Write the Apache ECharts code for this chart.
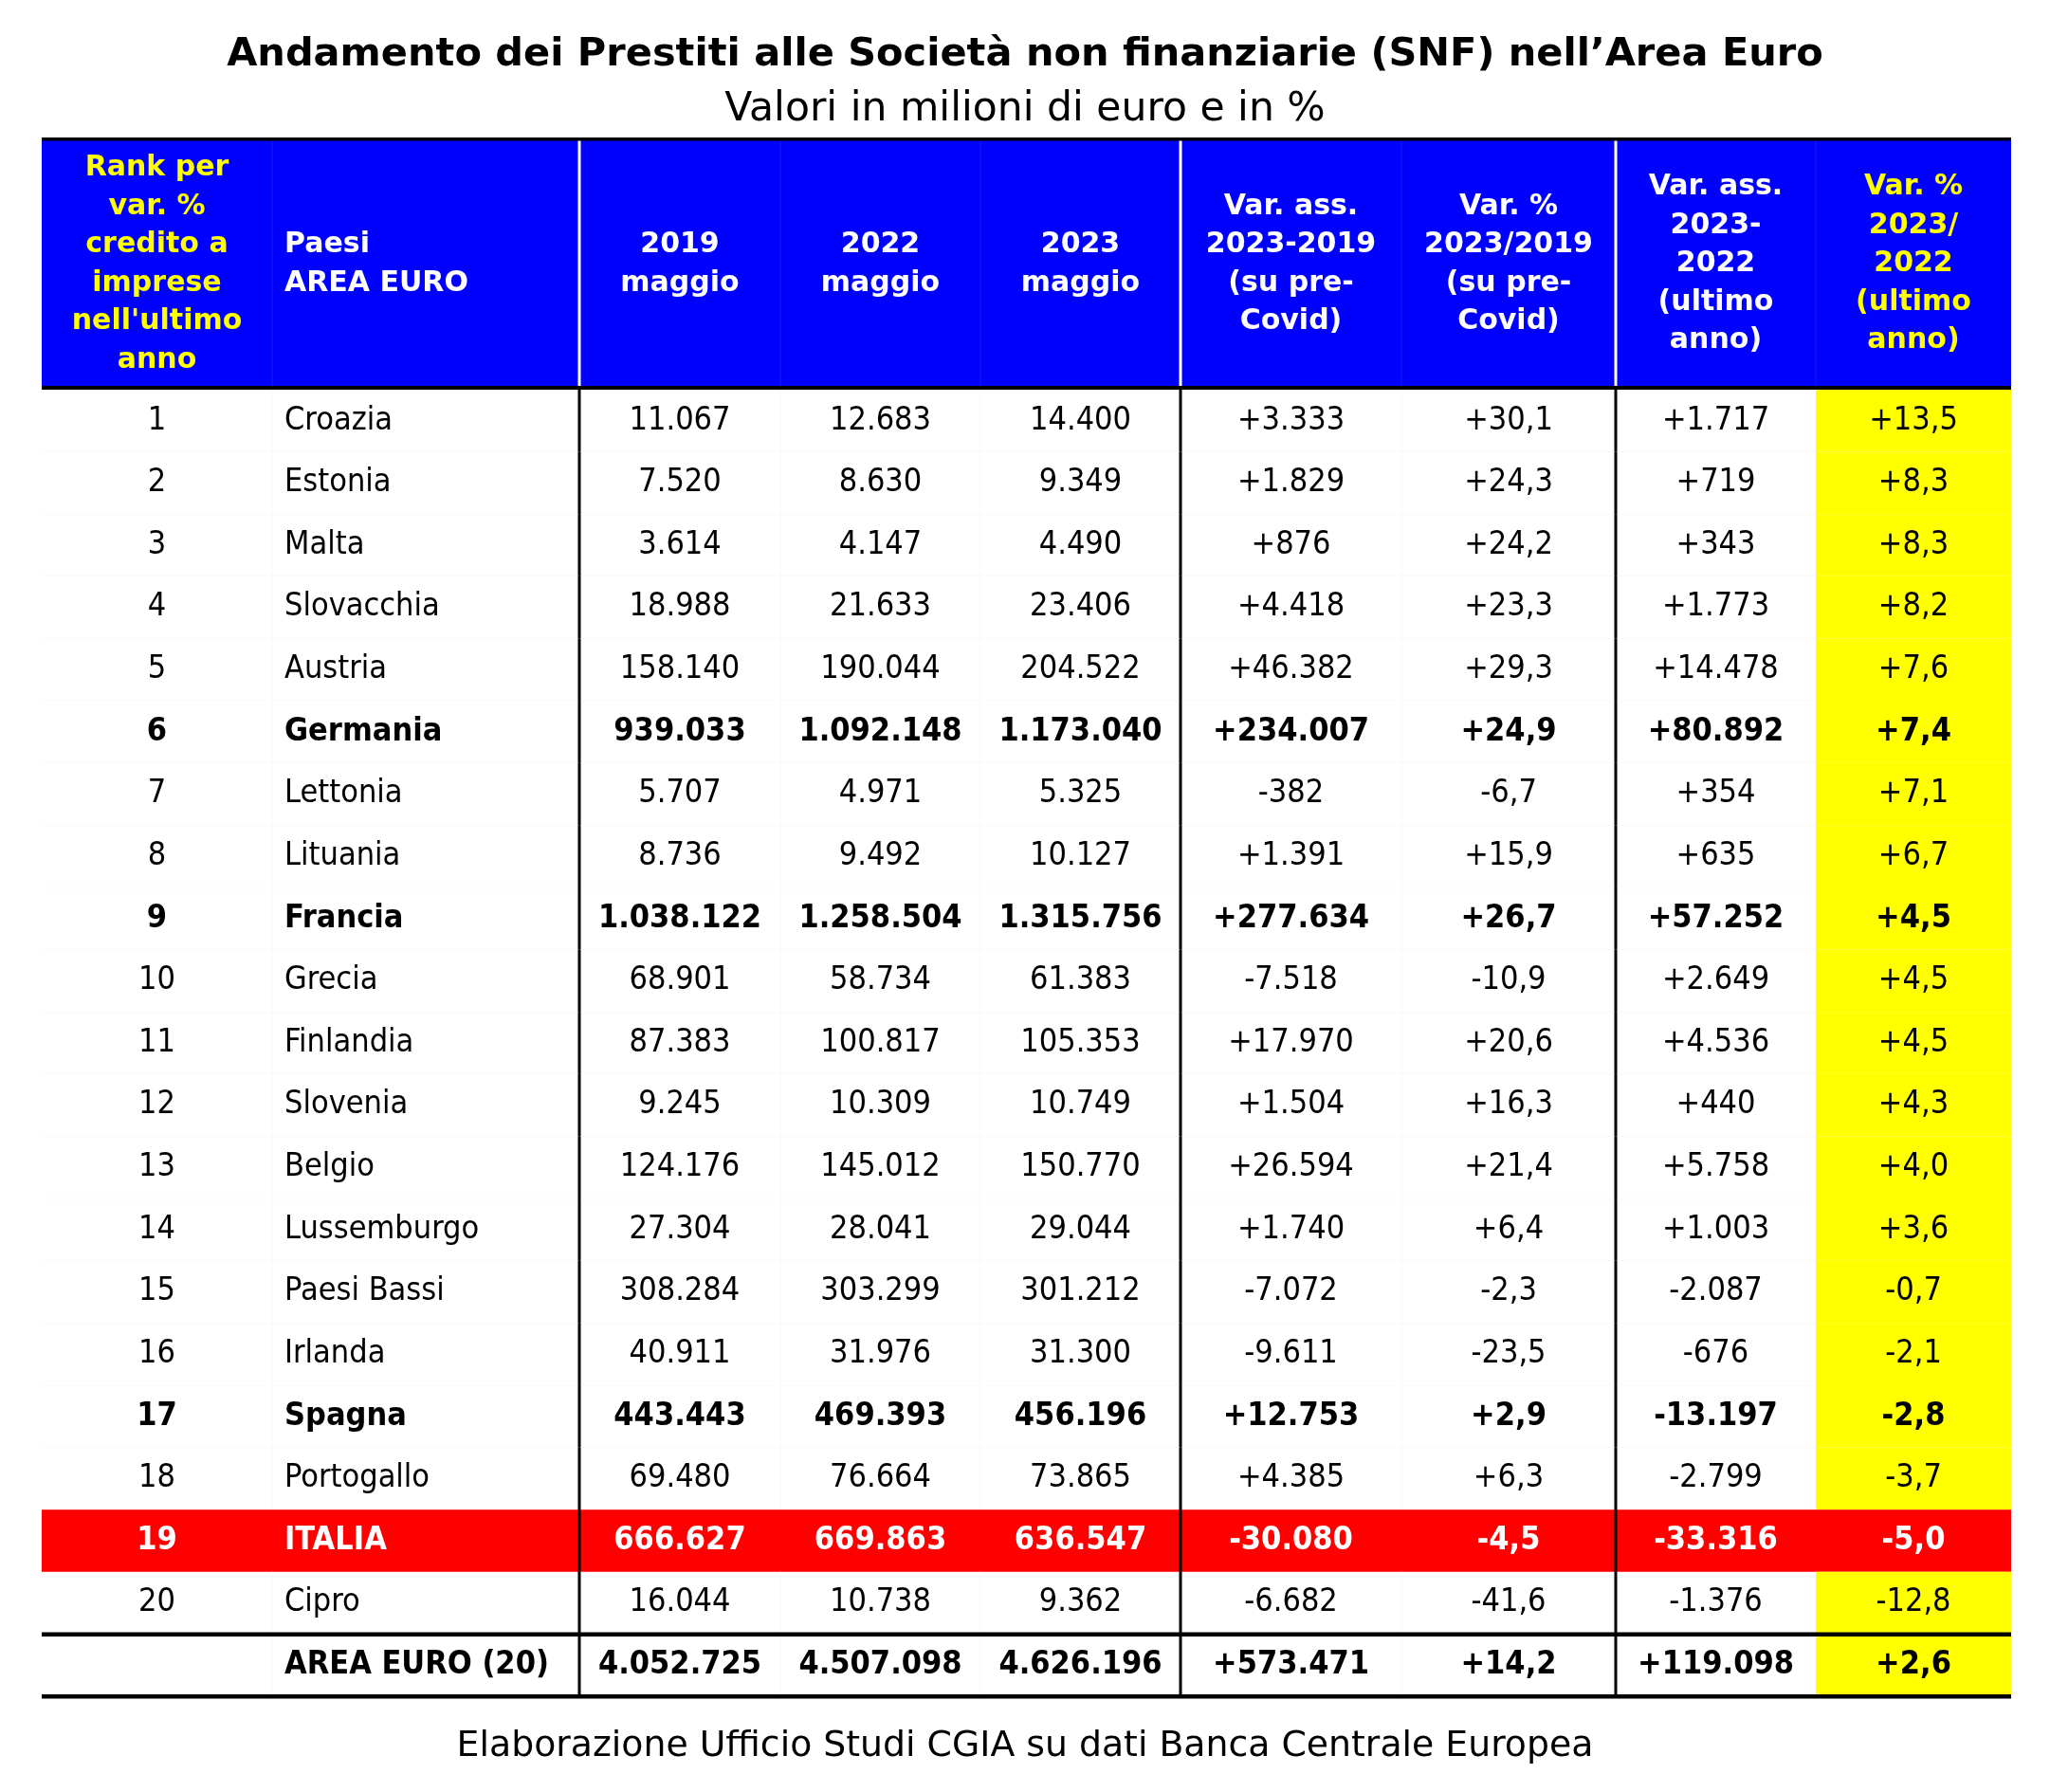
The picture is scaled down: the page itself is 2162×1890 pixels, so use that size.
<!DOCTYPE html>
<html><head><meta charset="utf-8">
<script src="https://cdn.jsdelivr.net/npm/echarts@6/dist/echarts.min.js"></script>
<style>html,body{margin:0;padding:0;background:#fff}#c{width:2162px;height:1890px}</style>
</head><body><div id="c"></div>
<script>
// ---------- DATA ----------
const titleText = 'Andamento dei Prestiti alle Società non finanziarie (SNF) nell’Area Euro';
const subtitleText = 'Valori in milioni di euro e in %';
const footerText = 'Elaborazione Ufficio Studi CGIA su dati Banca Centrale Europea';
const headerLabels = [
  'Rank per\nvar. %\ncredito a\nimprese\nnell\'ultimo\nanno',
  'Paesi\nAREA EURO',
  '2019\nmaggio',
  '2022\nmaggio',
  '2023\nmaggio',
  'Var. ass.\n2023-2019\n(su pre-\nCovid)',
  'Var. %\n2023/2019\n(su pre-\nCovid)',
  'Var. ass.\n2023-\n2022\n(ultimo\nanno)',
  'Var. %\n2023/\n2022\n(ultimo\nanno)'
];
const ranks = ['1','2','3','4','5','6','7','8','9','10','11','12','13','14','15','16','17','18','19','20',''];
const countries = ['Croazia','Estonia','Malta','Slovacchia','Austria','Germania','Lettonia','Lituania','Francia','Grecia','Finlandia','Slovenia','Belgio','Lussemburgo','Paesi Bassi','Irlanda','Spagna','Portogallo','ITALIA','Cipro','AREA EURO (20)'];
const may2019 = [11067,7520,3614,18988,158140,939033,5707,8736,1038122,68901,87383,9245,124176,27304,308284,40911,443443,69480,666627,16044,4052725];
const may2022 = [12683,8630,4147,21633,190044,1092148,4971,9492,1258504,58734,100817,10309,145012,28041,303299,31976,469393,76664,669863,10738,4507098];
const may2023 = [14400,9349,4490,23406,204522,1173040,5325,10127,1315756,61383,105353,10749,150770,29044,301212,31300,456196,73865,636547,9362,4626196];
const varAss2019 = [3333,1829,876,4418,46382,234007,-382,1391,277634,-7518,17970,1504,26594,1740,-7072,-9611,12753,4385,-30080,-6682,573471];
const varPct2019 = [30.1,24.3,24.2,23.3,29.3,24.9,-6.7,15.9,26.7,-10.9,20.6,16.3,21.4,6.4,-2.3,-23.5,2.9,6.3,-4.5,-41.6,14.2];
const varAss2022 = [1717,719,343,1773,14478,80892,354,635,57252,2649,4536,440,5758,1003,-2087,-676,-13197,-2799,-33316,-1376,119098];
const varPct2022 = [13.5,8.3,8.3,8.2,7.6,7.4,7.1,6.7,4.5,4.5,4.5,4.3,4.0,3.6,-0.7,-2.1,-2.8,-3.7,-5.0,-12.8,2.6];
const boldRows = ['Germania','Francia','Spagna','ITALIA','AREA EURO (20)'];
const highlightRow = 'ITALIA';
const totalRow = 'AREA EURO (20)';

// ---------- LAYOUT ----------
const W = 2162, H = 1890;
const TL = 44, TW = 2077;
const HEAD_TOP = 148, HEAD_H = 259;
const BODY_TOP = 411, BODY_H = 1378;
const edges = [0, 243, 567, 779, 990, 1201, 1434, 1660, 1871, 2077];
const BLUE = '#0000FF', YEL = '#FFFF00', RED = '#FF0000';
const fontBody = "'DejaVu Sans Condensed','Liberation Sans',sans-serif";
const fontHead = "'DejaVu Sans','Verdana',sans-serif";

function fmtInt(v, sign) {
  const s = Math.abs(v).toString().replace(/\B(?=(\d{3})+(?!\d))/g, '.');
  return (v < 0 ? '-' : (sign ? '+' : '')) + s;
}
function fmtPct(v) {
  return (v < 0 ? '-' : '+') + Math.abs(v).toFixed(1).replace('.', ',');
}

function headerItem(params, api) {
  const r = api.value(0);
  const c = api.coord([0, r]);
  const h = api.size([0, 1])[1];
  const y0 = c[1] - h / 2, y1 = c[1] + h / 2;
  const X = e => api.coord([e, r])[0];
  const kids = [];
  kids.push({type: 'rect', shape: {x: X(0), y: y0, width: X(TW) - X(0), height: h}, style: {fill: BLUE}});
  [1, 3, 4, 6, 8].forEach(k => kids.push({type: 'rect', shape: {x: X(edges[k]) - 0.5, y: y0, width: 1, height: h}, style: {fill: '#1a1ae6'}}));
  [2, 5, 7].forEach(k => kids.push({type: 'rect', shape: {x: X(edges[k]) - 1.5, y: y0, width: 3, height: h}, style: {fill: '#ffffff'}}));
  headerLabels.forEach((t, k) => {
    const left = k === 1;
    kids.push({type: 'text', style: {
      text: t, x: left ? X(edges[1]) + 13 : (X(edges[k]) + X(edges[k + 1])) / 2, y: c[1] + 1,
      align: left ? 'left' : 'center', verticalAlign: 'middle',
      font: 'bold 30px ' + fontHead, lineHeight: 40.5,
      fill: (k === 0 || k === 8) ? YEL : '#ffffff'
    }});
  });
  kids.push({type: 'rect', shape: {x: X(0), y: y0 - 3, width: X(TW) - X(0), height: 3.5}, style: {fill: '#000'}});
  kids.push({type: 'rect', shape: {x: X(0), y: y1, width: X(TW) - X(0), height: 4}, style: {fill: '#000'}});
  return {type: 'group', children: kids};
}

function bodyItem(params, api) {
  const i = params.dataIndex;
  const r = api.value(0);
  const c = api.coord([0, r]);
  const h = api.size([0, 1])[1];
  const y0 = c[1] - h / 2, y1 = c[1] + h / 2;
  const X = e => api.coord([e, r])[0];
  const kids = [];
  const isHi = countries[i] === highlightRow;
  const isTot = countries[i] === totalRow;
  const bold = boldRows.indexOf(countries[i]) >= 0;
  if (isHi) {
    kids.push({type: 'rect', shape: {x: X(0), y: y0, width: X(TW) - X(0), height: h}, style: {fill: RED}});
  } else {
    kids.push({type: 'rect', shape: {x: X(edges[8]), y: y0, width: X(edges[9]) - X(edges[8]), height: h}, style: {fill: YEL}});
    kids.push({type: 'rect', shape: {x: X(0), y: y1 - 0.5, width: X(edges[8]) - X(0), height: 1}, style: {fill: '#f9f9f9'}});
    [1, 3, 4, 6].forEach(k => kids.push({type: 'rect', shape: {x: X(edges[k]) - 0.5, y: y0, width: 1, height: h}, style: {fill: '#f9f9f9'}}));
  }
  const cells = [ranks[i], countries[i], fmtInt(may2019[i]), fmtInt(may2022[i]), fmtInt(may2023[i]),
    fmtInt(varAss2019[i], true), fmtPct(varPct2019[i]), fmtInt(varAss2022[i], true), fmtPct(varPct2022[i])];
  cells.forEach((t, k) => {
    const left = k === 1;
    kids.push({type: 'text', style: {
      text: t, x: left ? X(edges[1]) + 13 : (X(edges[k]) + X(edges[k + 1])) / 2, y: c[1],
      align: left ? 'left' : 'center', verticalAlign: 'middle',
      font: (bold ? 'bold ' : '') + '34px ' + fontBody,
      fill: isHi ? '#ffffff' : '#000000'
    }});
  });
  [2, 5, 7].forEach(k => kids.push({type: 'rect', shape: {x: X(edges[k]) - 1.5, y: y0, width: 3, height: h}, style: {fill: '#000'}}));
  if (isTot) {
    kids.push({type: 'rect', shape: {x: X(0), y: y0 - 2, width: X(TW) - X(0), height: 4.5}, style: {fill: '#000'}});
    kids.push({type: 'rect', shape: {x: X(0), y: y1 - 2, width: X(TW) - X(0), height: 4.5}, style: {fill: '#000'}});
  }
  return {type: 'group', children: kids};
}

const chart = echarts.init(document.getElementById('c'), null, {renderer: 'canvas', width: W, height: H});
chart.setOption({
  animation: false,
  backgroundColor: '#ffffff',
  grid: [
    {left: TL, top: HEAD_TOP, width: TW, height: HEAD_H},
    {left: TL, top: BODY_TOP, width: TW, height: BODY_H}
  ],
  xAxis: [
    {type: 'value', gridIndex: 0, min: 0, max: TW, show: false},
    {type: 'value', gridIndex: 1, min: 0, max: TW, show: false}
  ],
  yAxis: [
    {type: 'category', gridIndex: 0, data: ['header'], inverse: true, show: false},
    {type: 'category', gridIndex: 1, data: countries, inverse: true, show: false}
  ],
  graphic: [
    {type: 'text', left: 'center', top: 62 - 25, style: {text: titleText, font: 'bold 41.5px ' + fontHead, fill: '#000'}},
    {type: 'text', left: 'center', top: 119 - 25, style: {text: subtitleText, font: '42.5px ' + fontHead, fill: '#000'}},
    {type: 'text', left: 'center', top: 1846 - 23, style: {text: footerText, font: '37.8px ' + fontHead, fill: '#000'}}
  ],
  series: [
    {type: 'custom', xAxisIndex: 0, yAxisIndex: 0, data: [[0]], renderItem: headerItem, silent: true},
    {type: 'custom', xAxisIndex: 1, yAxisIndex: 1, data: countries.map((_, k) => [k]), renderItem: bodyItem, silent: true}
  ]
});
</script>
</body></html>
